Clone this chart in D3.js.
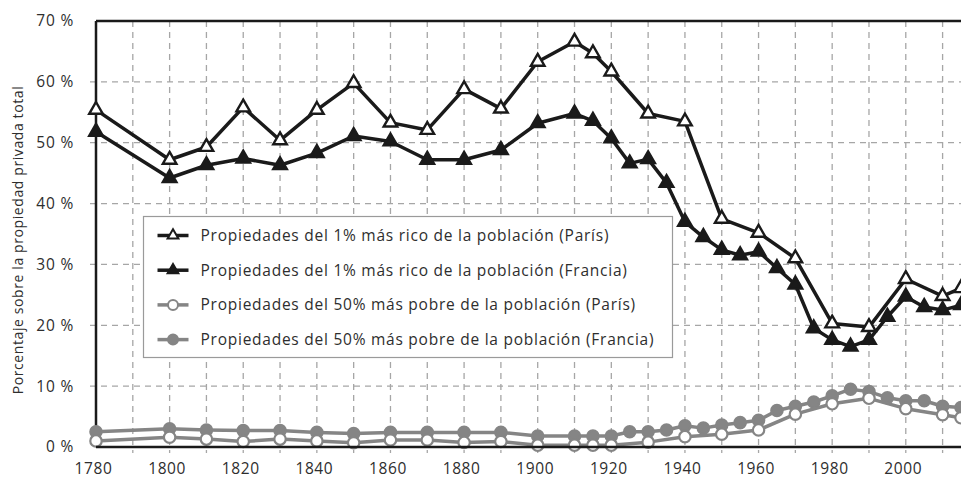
<!DOCTYPE html>
<html>
<head>
<meta charset="utf-8">
<script src="https://cdn.jsdelivr.net/npm/d3@7"></script>
<style>
  html, body { margin: 0; padding: 0; background: #fff; }
  svg { display: block; font-family: "Open Sans", "Noto Sans", sans-serif; }
</style>
</head>
<body>
<div id="chart"></div>
<script>
// years where the Paris series have a point
const yearsParis = [1780, 1800, 1810, 1820, 1830, 1840, 1850, 1860, 1870, 1880, 1890, 1900,
  1910, 1915, 1920, 1930, 1940, 1950, 1960, 1970, 1980, 1990, 2000, 2010, 2015];
// years where the France series have a point
const yearsFrance = [1780, 1800, 1810, 1820, 1830, 1840, 1850, 1860, 1870, 1880, 1890, 1900,
  1910, 1915, 1920, 1925, 1930, 1935, 1940, 1945, 1950, 1955, 1960, 1965, 1970, 1975,
  1980, 1985, 1990, 1995, 2000, 2005, 2010, 2015];

const top1Paris = [55.4, 47.2, 49.3, 55.8, 50.4, 55.4, 59.8, 53.3, 52.1, 58.8, 55.6, 63.3,
  66.6, 64.7, 61.7, 54.8, 53.5, 37.5, 35.2, 31.0, 20.3, 19.7, 27.6, 24.8, 26.1];
const top1France = [51.8, 44.2, 46.3, 47.4, 46.3, 48.3, 51.1, 50.2, 47.2, 47.2, 48.8, 53.2,
  54.8, 53.6, 50.7, 46.6, 47.3, 43.4, 37.0, 34.5, 32.4, 31.5, 32.1, 29.4, 26.7, 19.5,
  17.6, 16.5, 17.6, 21.4, 24.7, 23.0, 22.5, 23.3];
const bottom50Paris = [1.0, 1.6, 1.3, 0.9, 1.3, 1.0, 0.7, 1.15, 1.15, 0.75, 0.9, 0.3,
  0.3, 0.3, 0.3, 0.8, 1.7, 2.1, 2.8, 5.4, 7.1, 8.0, 6.3, 5.3, 4.8];
const bottom50France = [2.5, 3.0, 2.8, 2.7, 2.7, 2.4, 2.2, 2.4, 2.4, 2.4, 2.4, 1.8,
  1.8, 1.8, 1.8, 2.5, 2.5, 2.8, 3.5, 3.1, 3.6, 4.0, 4.4, 6.0, 6.7, 7.4,
  8.4, 9.5, 9.1, 8.1, 7.6, 7.6, 6.7, 6.5];

const yTicks = [0, 10, 20, 30, 40, 50, 60, 70];
const xTicks = [1780, 1800, 1820, 1840, 1860, 1880, 1900, 1920, 1940, 1960, 1980, 2000];
const yTitle = "Porcentaje sobre la propiedad privada total";

const legendLabels = [
  "Propiedades del 1% más rico de la población (París)",
  "Propiedades del 1% más rico de la población (Francia)",
  "Propiedades del 50% más pobre de la población (París)",
  "Propiedades del 50% más pobre de la población (Francia)"
];

const width = 961;
const height = 480;
const margin = { top: 21, right: 0, bottom: 33, left: 96 };

const svg = d3.select("#chart").append("svg")
  .attr("width", width)
  .attr("height", height);

const x = d3.scaleLinear().domain([1780, 2015]).range([margin.left, width - margin.right]);
const y = d3.scaleLinear().domain([0, 70]).range([height - margin.bottom, margin.top]);

const gridColor = "#a6a6a6";
const black = "#1a1a1a";
const grey = "#858585";
const textColor = "#2e2e2e";

// grid
const grid = svg.append("g");
grid.selectAll("line.v")
  .data(d3.range(1790, 2015, 10))
  .join("line")
  .attr("x1", d => x(d)).attr("x2", d => x(d))
  .attr("y1", y(70)).attr("y2", y(0) + 6)
  .attr("stroke", gridColor)
  .attr("stroke-width", 1.3)
  .attr("stroke-dasharray", "6,5");
grid.selectAll("line.h")
  .data(yTicks.slice(1, -1))
  .join("line")
  .attr("x1", x(1780) - 6).attr("x2", width)
  .attr("y1", d => y(d)).attr("y2", d => y(d))
  .attr("stroke", gridColor)
  .attr("stroke-width", 1.3)
  .attr("stroke-dasharray", "6,5");

// frame
svg.append("line")
  .attr("x1", x(1780)).attr("x2", width)
  .attr("y1", y(70)).attr("y2", y(70))
  .attr("stroke", black).attr("stroke-width", 2.5);
svg.append("line")
  .attr("x1", x(1780)).attr("x2", x(1780))
  .attr("y1", y(70)).attr("y2", y(0))
  .attr("stroke", black).attr("stroke-width", 2.5);

// axes
const yAxis = svg.append("g")
  .attr("transform", `translate(${x(1780)},0)`)
  .call(d3.axisLeft(y).tickValues(yTicks).tickSize(0).tickPadding(22).tickFormat(d => d + " %"));
yAxis.select(".domain").remove();
yAxis.selectAll("text")
  .attr("fill", textColor)
  .style("font-family", "'Open Sans', sans-serif")
  .style("font-size", "15.5px")
  .style("letter-spacing", "0.8px");

const xAxis = svg.append("g")
  .attr("transform", `translate(0,${y(0)})`)
  .call(d3.axisBottom(x).tickValues(xTicks).tickSize(0).tickPadding(16).tickFormat(d3.format("d")));
xAxis.select(".domain").remove();
xAxis.selectAll("text")
  .attr("fill", textColor)
  .attr("dx", "-3")
  .style("font-family", "'Open Sans', sans-serif")
  .style("font-size", "15.5px")
  .style("letter-spacing", "0.6px");

svg.append("text")
  .attr("transform", `translate(23,240) rotate(-90)`)
  .attr("text-anchor", "middle")
  .attr("fill", textColor)
  .style("font-size", "14px")
  .style("letter-spacing", "0.6px")
  .text(yTitle);

// series
const tri = d3.symbol().type(d3.symbolTriangle).size(80);
const triSmall = d3.symbol().type(d3.symbolTriangle).size(50);

const series = [
  { years: yearsFrance, values: bottom50France, color: grey, fill: grey, shape: "circle" },
  { years: yearsParis, values: bottom50Paris, color: grey, fill: "#fff", shape: "circle" },
  { years: yearsFrance, values: top1France, color: black, fill: black, shape: "triangle" },
  { years: yearsParis, values: top1Paris, color: black, fill: "#fff", shape: "triangle" }
];

const line = d3.line().x(d => x(d[0])).y(d => y(d[1]));

series.forEach(s => {
  const pts = s.years.map((yr, i) => [yr, s.values[i]]);
  svg.append("path")
    .attr("d", line(pts))
    .attr("fill", "none")
    .attr("stroke", s.color)
    .attr("stroke-width", 3.5)
    .attr("stroke-linejoin", "round");
  if (s.shape === "circle") {
    svg.append("g").selectAll("circle")
      .data(pts)
      .join("circle")
      .attr("cx", d => x(d[0]))
      .attr("cy", d => y(d[1]))
      .attr("r", 5.7)
      .attr("fill", s.fill)
      .attr("stroke", s.color)
      .attr("stroke-width", 2.2);
  } else {
    svg.append("g").selectAll("path")
      .data(pts)
      .join("path")
      .attr("transform", d => `translate(${x(d[0])},${y(d[1])})`)
      .attr("d", tri)
      .attr("fill", s.fill)
      .attr("stroke", s.color)
      .attr("stroke-width", 2.4);
  }
});

// bottom axis line on top of the grey series
svg.append("line")
  .attr("x1", x(1780)).attr("x2", width)
  .attr("y1", y(0)).attr("y2", y(0))
  .attr("stroke", black).attr("stroke-width", 2.5);

// legend
const legend = svg.append("g").attr("transform", "translate(143.5,216.5)");
legend.append("rect")
  .attr("width", 529)
  .attr("height", 141)
  .attr("fill", "#fff")
  .attr("stroke", "#9a9a9a")
  .attr("stroke-width", 1.2);

const legendSeries = [series[3], series[2], series[1], series[0]];
legendLabels.forEach((label, i) => {
  const s = legendSeries[i];
  const row = legend.append("g").attr("transform", `translate(0,${19 + i * 34.7})`);
  row.append("line")
    .attr("x1", 14).attr("x2", 45)
    .attr("stroke", s.color)
    .attr("stroke-width", 3.5);
  if (s.shape === "circle") {
    row.append("circle")
      .attr("cx", 29.5).attr("r", 5)
      .attr("fill", s.fill).attr("stroke", s.color).attr("stroke-width", 2);
  } else {
    row.append("path")
      .attr("transform", "translate(29.5,0)")
      .attr("d", triSmall)
      .attr("fill", s.fill).attr("stroke", s.color).attr("stroke-width", 2);
  }
  row.append("text")
    .attr("x", 57)
    .attr("dy", "0.36em")
    .attr("fill", textColor)
    .style("font-size", "15.5px")
    .style("letter-spacing", "0.75px")
    .text(label);
});
</script>
</body>
</html>
